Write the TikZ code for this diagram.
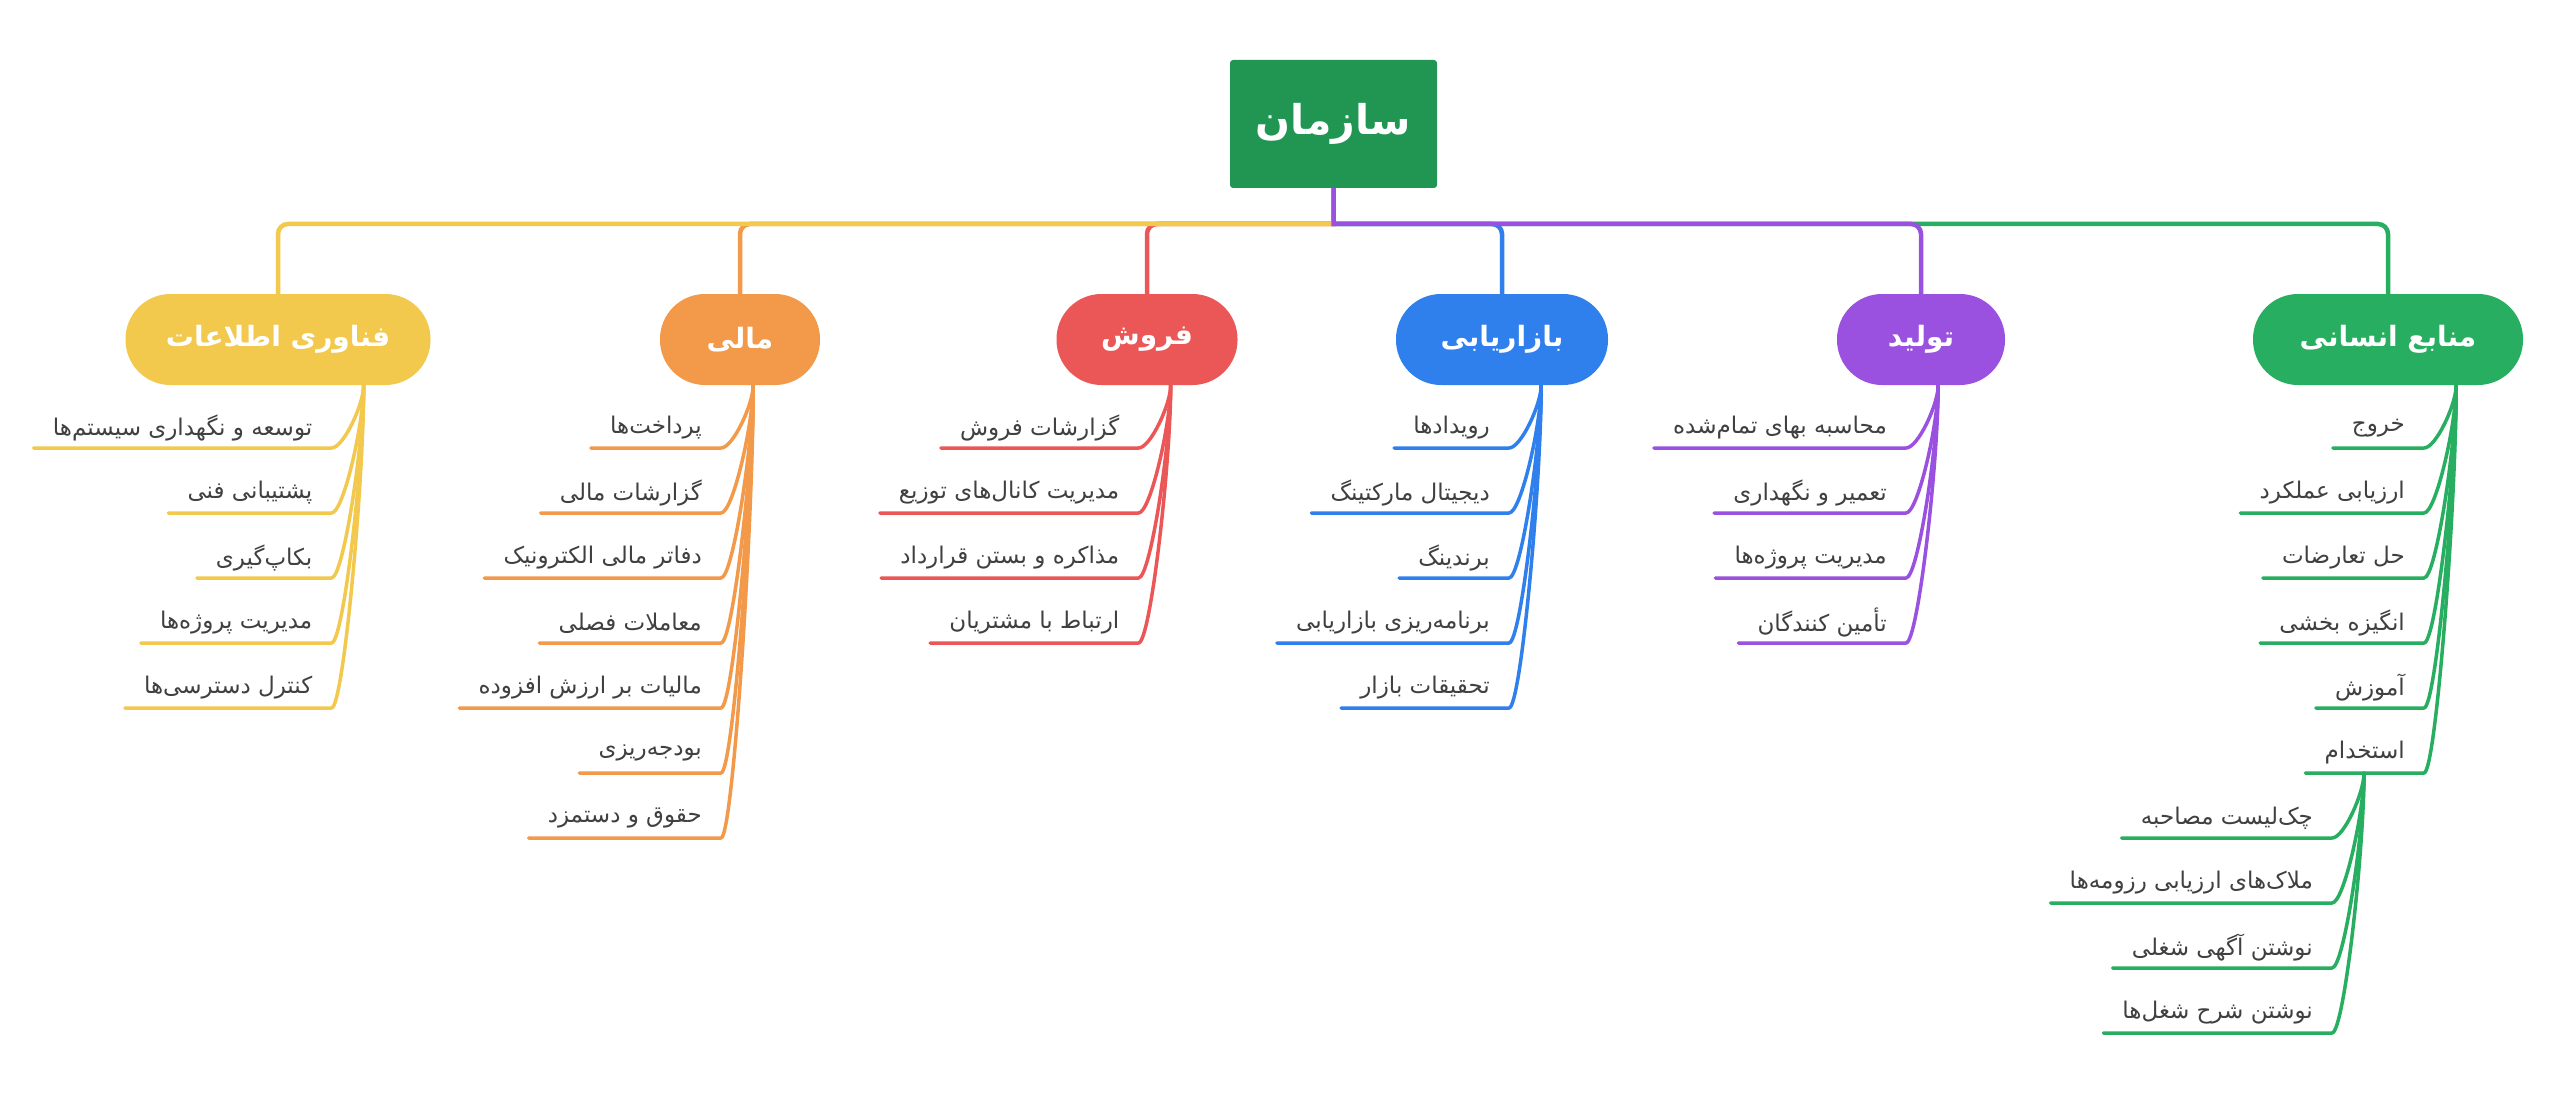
\documentclass[tikz,border=0pt]{standalone}
\usepackage{fontspec}
\usetikzlibrary{calc}
\TeXXeTstate=1
\newfontfamily\fa[Script=Arabic]{DejaVu Sans}
\definecolor{rootc}{HTML}{219653}
\definecolor{hrc}{HTML}{27AE60}
\definecolor{proc}{HTML}{9B51E0}
\definecolor{mktc}{HTML}{2F80ED}
\definecolor{salc}{HTML}{EB5757}
\definecolor{finc}{HTML}{F2994A}
\definecolor{itc}{HTML}{F2C94C}
\definecolor{txtc}{HTML}{404040}
\colorlet{br}{hrc}
\tikzset{
 rootbox/.style={fill=rootc, rounded corners=3pt, minimum width=207pt, minimum height=128pt, inner sep=0pt, text=white, font=\fa\bfseries\fontsize{41}{48}\selectfont},
 pill/.style={rounded corners=45pt, minimum height=91pt, inner sep=0pt, text=white, font=\fa\bfseries\fontsize{28}{33}\selectfont},
 bus/.style={line width=4.5pt},
 leaf/.style={anchor=south east, minimum height=40pt, inner xsep=19pt, inner ysep=0pt, text=txtc, font=\fa\fontsize{23}{27}\selectfont},
 leafline/.style={draw=br, line width=3.5pt, line cap=round, line join=round},
}
\newcommand\leafitem[5]{%
 \node[leaf] (#2) at (#3,#4) {#5};
 \draw[leafline] (#1) .. controls ($(#1)!0.3!(#1 |- #2.south east)$) and ($(#2.south east)+(12,0)$) .. (#2.south east) -- (#2.south west);
}
\begin{document}
\begin{tikzpicture}[x=1pt,y=-1pt]
\fill[white] (0,0) rectangle (2560,1094);
\useasboundingbox (0,0) rectangle (2560,1094);
% root and main branches
\node[rootbox] (root) at (1333.5,124) {\beginR سازمان\endR};
\node[pill, fill=hrc, minimum width=270pt] (hr) at (2388,339.5) {\beginR منابع انسانی\endR};
\node[pill, fill=proc, minimum width=168pt] (pro) at (1921,339.5) {\beginR تولید\endR};
\node[pill, fill=mktc, minimum width=212pt] (mkt) at (1502,339.5) {\beginR بازاریابی\endR};
\node[pill, fill=salc, minimum width=181pt] (sal) at (1147,339.5) {\beginR فروش\endR};
\node[pill, fill=finc, minimum width=160pt] (fin) at (740,339.5) {\beginR مالی\endR};
\node[pill, fill=itc, minimum width=305pt] (it) at (278,339.5) {\beginR فناوری اطلاعات\endR};
\coordinate (bus) at (0,224);
\draw[bus, hrc] (root.south) -- (root.south |- bus) [rounded corners=10pt] -- (hr.north |- bus) -- (hr.north);
\draw[bus, mktc] (root.south) -- (root.south |- bus) [rounded corners=10pt] -- (mkt.north |- bus) -- (mkt.north);
\draw[bus, finc] (root.south) -- (root.south |- bus) [rounded corners=10pt] -- (fin.north |- bus) -- (fin.north);
\draw[bus, salc] (root.south) -- (root.south |- bus) [rounded corners=10pt] -- (sal.north |- bus) -- (sal.north);
\draw[bus, itc] (root.south) -- (root.south |- bus) [rounded corners=10pt] -- (it.north |- bus) -- (it.north);
\draw[bus, proc] (root.south) -- (root.south |- bus) [rounded corners=10pt] -- (pro.north |- bus) -- (pro.north);
% attach points
\coordinate (hr-a) at ($(hr.south east)+(-67,0)$);
\coordinate (pro-a) at ($(pro.south east)+(-67,0)$);
\coordinate (mkt-a) at ($(mkt.south east)+(-67,0)$);
\coordinate (sal-a) at ($(sal.south east)+(-67,0)$);
\coordinate (fin-a) at ($(fin.south east)+(-67,0)$);
\coordinate (it-a) at ($(it.south east)+(-67,0)$);
% HR
\colorlet{br}{hrc}
\leafitem{hr-a}{hr1}{2424}{448}{\beginR خروج\endR}
\leafitem{hr-a}{hr2}{2424}{513}{\beginR ارزیابی عملکرد\endR}
\leafitem{hr-a}{hr3}{2424}{578}{\beginR حل تعارضات\endR}
\leafitem{hr-a}{hr4}{2424}{643}{\beginR انگیزه بخشی\endR}
\leafitem{hr-a}{hr5}{2424}{708}{\beginR آموزش\endR}
\leafitem{hr-a}{hr6}{2424}{773}{\beginR استخدام\endR}
\coordinate (hr6-a) at ($(hr6.south east)+(-60,0)$);
\leafitem{hr6-a}{hr61}{2332}{838}{\beginR چک^^^^200cلیست مصاحبه\endR}
\leafitem{hr6-a}{hr62}{2332}{903}{\beginR ملاک^^^^200cهای ارزیابی رزومه^^^^200cها\endR}
\leafitem{hr6-a}{hr63}{2332}{968}{\beginR نوشتن آگهی شغلی\endR}
\leafitem{hr6-a}{hr64}{2332}{1033}{\beginR نوشتن شرح شغل^^^^200cها\endR}
% production
\colorlet{br}{proc}
\leafitem{pro-a}{pro1}{1906}{448}{\beginR محاسبه بهای تمام^^^^200cشده\endR}
\leafitem{pro-a}{pro2}{1906}{513}{\beginR تعمیر و نگهداری\endR}
\leafitem{pro-a}{pro3}{1906}{578}{\beginR مدیریت پروژه^^^^200cها\endR}
\leafitem{pro-a}{pro4}{1906}{643}{\beginR تأمین کنندگان\endR}
% marketing
\colorlet{br}{mktc}
\leafitem{mkt-a}{mkt1}{1509}{448}{\beginR رویدادها\endR}
\leafitem{mkt-a}{mkt2}{1509}{513}{\beginR دیجیتال مارکتینگ\endR}
\leafitem{mkt-a}{mkt3}{1509}{578}{\beginR برندینگ\endR}
\leafitem{mkt-a}{mkt4}{1509}{643}{\beginR برنامه^^^^200cریزی بازاریابی\endR}
\leafitem{mkt-a}{mkt5}{1509}{708}{\beginR تحقیقات بازار\endR}
% sales
\colorlet{br}{salc}
\leafitem{sal-a}{sal1}{1138.5}{448}{\beginR گزارشات فروش\endR}
\leafitem{sal-a}{sal2}{1138.5}{513}{\beginR مدیریت کانال^^^^200cهای توزیع\endR}
\leafitem{sal-a}{sal3}{1138.5}{578}{\beginR مذاکره و بستن قرارداد\endR}
\leafitem{sal-a}{sal4}{1138.5}{643}{\beginR ارتباط با مشتریان\endR}
% finance
\colorlet{br}{finc}
\leafitem{fin-a}{fin1}{721}{448}{\beginR پرداخت^^^^200cها\endR}
\leafitem{fin-a}{fin2}{721}{513}{\beginR گزارشات مالی\endR}
\leafitem{fin-a}{fin3}{721}{578}{\beginR دفاتر مالی الکترونیک\endR}
\leafitem{fin-a}{fin4}{721}{643}{\beginR معاملات فصلی\endR}
\leafitem{fin-a}{fin5}{721}{708}{\beginR مالیات بر ارزش افزوده\endR}
\leafitem{fin-a}{fin6}{721}{773}{\beginR بودجه^^^^200cریزی\endR}
\leafitem{fin-a}{fin7}{721}{838}{\beginR حقوق و دستمزد\endR}
% IT
\colorlet{br}{itc}
\leafitem{it-a}{it1}{331.5}{448}{\beginR توسعه و نگهداری سیستم^^^^200cها\endR}
\leafitem{it-a}{it2}{331.5}{513}{\beginR پشتیبانی فنی\endR}
\leafitem{it-a}{it3}{331.5}{578}{\beginR بکاپ^^^^200cگیری\endR}
\leafitem{it-a}{it4}{331.5}{643}{\beginR مدیریت پروژه^^^^200cها\endR}
\leafitem{it-a}{it5}{331.5}{708}{\beginR کنترل دسترسی^^^^200cها\endR}
\end{tikzpicture}
\end{document}
